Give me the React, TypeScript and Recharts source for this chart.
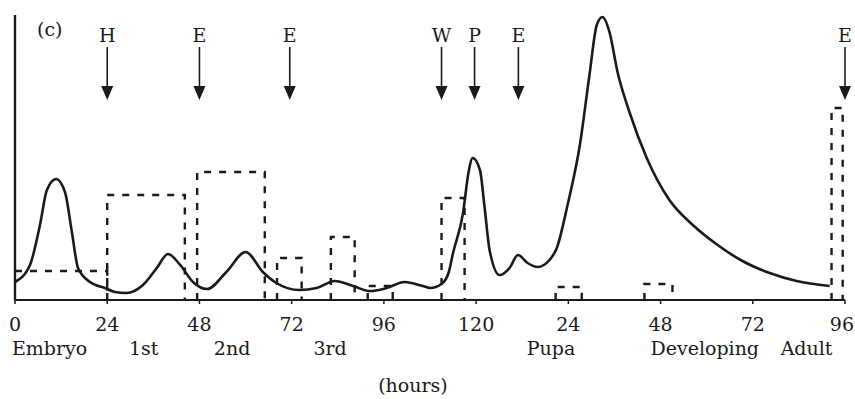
import { ComposedChart, Line, Scatter, XAxis, YAxis, ReferenceLine } from 'recharts';

// hour ticks: larval time runs 0..120, pupal time restarts at 0 (shown as 24..96)
const hourTicks = [0, 24, 48, 72, 96, 120, 144, 168, 192, 216];
const stageTicks = [9, 33.5, 56.5, 82, 139.5, 179.5, 206];
const stageNames = ['Embryo', '1st', '2nd', '3rd', 'Pupa', 'Developing', 'Adult'];

// solid curve (ecdysteroid titer, arbitrary units)
const curveHours = [
  0, 3.9, 6.5, 8.3, 10.7, 13, 14.8, 16.4, 19.5, 23.4, 26, 29, 33.3, 36.9, 39.8, 43, 46.3, 50,
  55, 60, 64.5, 68, 74, 78.5, 83.2, 88, 92.3, 96.7, 101.4, 106.1, 108, 111, 112.9, 114, 116.6,
  118, 119.1, 121, 122.2, 123.5, 126.1, 128.7, 130.9, 133.4, 136, 139.1, 141, 143.8, 147,
  149.5, 151.4, 152.9, 154.7, 156.8, 159.9, 164.4, 170.3, 176.4, 182.5, 189.3, 196.4, 203.4, 212,
];
const curveLevels = [
  18, 35, 75, 110, 121, 108, 68, 32, 18, 12, 8, 7, 15, 32, 46, 35, 18, 11,
  28, 48, 28, 17, 10, 12, 19, 14, 9, 12, 18, 14, 12, 16, 28, 47, 87,
  127, 142, 130, 93, 50, 25, 32, 45, 37, 33, 40, 52, 95, 155,
  225, 275, 283, 268, 228, 188, 142, 100, 75, 56, 39, 27, 19, 14,
];

// dashed pulses (start hour, end hour, level)
const pulseStarts = [0, 24, 47.4, 68.2, 82.2, 91.8, 111, 140.7, 163.8, 212.5];
const pulseEnds = [24, 44.2, 65, 74.6, 88.4, 98.3, 117, 147.5, 171.1, 215.4];
const pulseLevels = [29, 105, 128, 42, 63, 14, 102, 13, 16, 192];

// event arrows
const arrowLabels = ['H', 'E', 'E', 'W', 'P', 'E', 'E'];
const arrowHours = [24, 48, 71.5, 111, 119.6, 131, 216];
const arrowLevel = 200;

const curveData = curveHours.map((t, i) => ({ t, v: curveLevels[i] }));

const pulseData: { t: number; v: number | null }[] = [];
pulseStarts.forEach((s, i) => {
  const e = pulseEnds[i];
  const lv = pulseLevels[i];
  if (i > 0) pulseData.push({ t: s, v: 0 });
  pulseData.push({ t: s, v: lv });
  pulseData.push({ t: e, v: lv });
  pulseData.push({ t: e, v: 0 });
  pulseData.push({ t: e, v: null });
});

const arrowData = arrowHours.map((t, i) => ({ t, v: arrowLevel, label: arrowLabels[i] }));
const stageData = stageTicks.map((t, i) => ({ t, v: 0, label: stageNames[i] }));

const FONT = '"DejaVu Serif", serif';
const INK = '#1a1a1a';

function ArrowMark(props: any) {
  const { cx, cy, payload } = props;
  return (
    <g>
      <text x={cx} y={cy - 58} textAnchor="middle" fontFamily={FONT} fontSize={19} fill={INK}>
        {payload.label}
      </text>
      <line x1={cx} x2={cx} y1={cy - 53} y2={cy - 10} stroke={INK} strokeWidth={1.6} />
      <path d={`M${cx - 6},${cy - 14} L${cx + 6},${cy - 14} L${cx},${cy} Z`} fill={INK} />
    </g>
  );
}

// stage names sit below the hour numbers
function StageName(props: any) {
  const { cx, cy, payload } = props;
  return (
    <text x={cx} y={cy + 55} textAnchor="middle" fontFamily={FONT} fontSize={19} fill={INK}>
      {payload.label}
    </text>
  );
}

function HourTick(props: any) {
  const { x, y, payload } = props;
  const t = payload.value as number;
  const last = t === hourTicks[hourTicks.length - 1];
  return (
    <text
      x={last ? x + 9 : x}
      y={y}
      dy="0.71em"
      textAnchor={last ? 'end' : 'middle'}
      fontFamily={FONT}
      fontSize={19}
      fill={INK}
    >
      {String(t > 120 ? t - 120 : t)}
    </text>
  );
}

export default function App() {
  return (
    <div style={{ position: 'absolute', left: 0, top: 0, width: 855, height: 399, background: '#fff' }}>
      <ComposedChart
        width={855}
        height={399}
        margin={{ top: 15, right: 10, left: 15, bottom: 0 }}
      >
        <XAxis
          dataKey="t"
          type="number"
          domain={[0, 216]}
          ticks={hourTicks}
          interval={0}
          axisLine={{ stroke: INK, strokeWidth: 2.2 }}
          tickLine={{ stroke: INK, strokeWidth: 1.5 }}
          tickSize={4}
          tickMargin={14}
          height={99}
          tick={HourTick}
          label={{
            content: (p: any) => {
              const vb = p.viewBox;
              return (
                <text
                  x={vb.x + vb.width / 2 - 17}
                  y={vb.y + vb.height - 7}
                  textAnchor="middle"
                  fontFamily={FONT}
                  fontSize={19}
                  fill={INK}
                >
                  (hours)
                </text>
              );
            },
          }}
        />
        <YAxis dataKey="v" type="number" domain={[0, 285]} hide />
        <ReferenceLine x={0} stroke={INK} strokeWidth={2.4} />
        <Line
          data={pulseData}
          dataKey="v"
          type="linear"
          stroke={INK}
          strokeWidth={2.4}
          strokeDasharray="7 8"
          dot={false}
          connectNulls={false}
          isAnimationActive={false}
        />
        <Line
          data={curveData}
          dataKey="v"
          type="monotone"
          stroke={INK}
          strokeWidth={2.6}
          dot={false}
          isAnimationActive={false}
        />
        <Scatter data={arrowData} dataKey="v" shape={ArrowMark} isAnimationActive={false} />
        <Scatter data={stageData} dataKey="v" shape={StageName} isAnimationActive={false} />
      </ComposedChart>
      <div
        style={{
          position: 'absolute',
          left: 37,
          top: 18,
          fontFamily: FONT,
          fontSize: 19,
          color: INK,
        }}
      >
        (c)
      </div>
    </div>
  );
}
